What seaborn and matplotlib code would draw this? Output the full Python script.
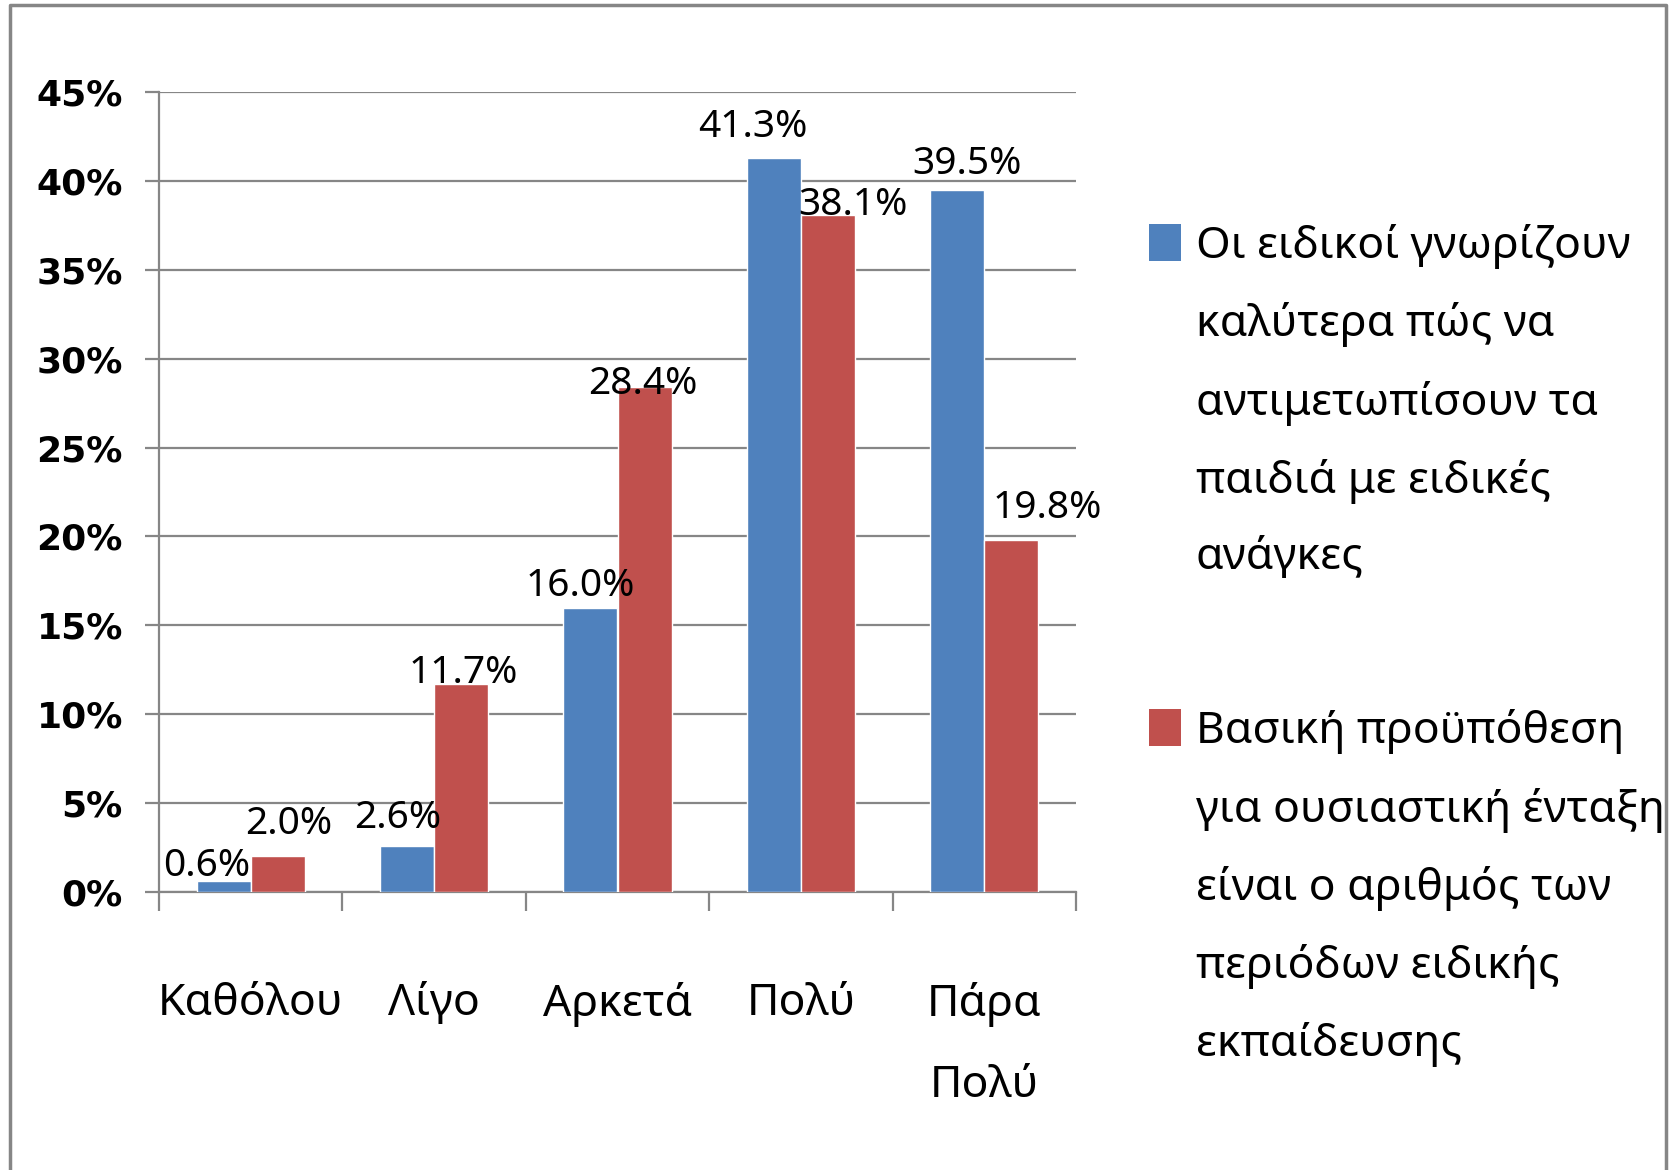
import matplotlib
matplotlib.use("Agg")
import matplotlib.pyplot as plt
import matplotlib.patches as mpatches
from matplotlib.ticker import FixedLocator
import seaborn as sns
import pandas as pd

# ---- data ----
categories = ["Καθόλου", "Λίγο", "Αρκετά", "Πολύ", "Πάρα\nΠολύ"]
series_names = [
    "Οι ειδικοί γνωρίζουν\nκαλύτερα πώς να\nαντιμετωπίσουν τα\nπαιδιά με ειδικές\nανάγκες",
    "Βασική προϋπόθεση\nγια ουσιαστική ένταξη\nείναι ο αριθμός των\nπεριόδων ειδικής\nεκπαίδευσης",
]
series1 = [0.006, 0.026, 0.160, 0.413, 0.395]
series2 = [0.020, 0.117, 0.284, 0.381, 0.198]
y_ticks = [0.00, 0.05, 0.10, 0.15, 0.20, 0.25, 0.30, 0.35, 0.40, 0.45]
y_tick_labels = ["0%", "5%", "10%", "15%", "20%", "25%", "30%", "35%", "40%", "45%"]

# ---- style (label nudges in points, per series) ----
label_dx = [[-12, -7, -7, -15, 7], [8, 1.5, -1, 18, 26]]
label_dy = [[4, 13, 8, 15, 11.5], [16, 1, -5, 0, 16]]

colors = ["#4F81BD", "#C0504D"]
grid_col = "#868686"

sns.set_style("white")
plt.rcParams["font.family"] = ["Noto Sans", "DejaVu Sans"]
plt.rcParams["text.color"] = "black"
plt.rcParams["xtick.color"] = "black"
plt.rcParams["ytick.color"] = "black"

df = pd.DataFrame({
    "cat": categories * 2,
    "val": series1 + series2,
    "series": [series_names[0]] * 5 + [series_names[1]] * 5,
})

fig = plt.figure(figsize=(16.71, 11.70), dpi=100)
ax = fig.add_axes([159 / 1671, 1 - 892 / 1170, (1076 - 159) / 1671, (892 - 92) / 1170])

sns.barplot(data=df, x="cat", y="val", hue="series", order=categories,
            hue_order=series_names, palette=colors, width=0.59, gap=0,
            saturation=1, ax=ax, legend=False, zorder=3)

ax.set_xlim(-0.5, len(categories) - 0.5)
ax.set_ylim(0, 0.45)
ax.set_yticks(y_ticks, labels=y_tick_labels, fontweight="bold", fontsize=26,
              family="DejaVu Sans")
ax.grid(axis="y", color=grid_col, linewidth=1.6, zorder=0)
ax.set_axisbelow(True)
ax.set_xlabel("")
ax.set_ylabel("")

for s in ["top", "right"]:
    ax.spines[s].set_visible(False)
for s in ["left", "bottom"]:
    ax.spines[s].set_color(grid_col)
    ax.spines[s].set_linewidth(1.6)

ax.tick_params(axis="y", length=10, width=1.6, color=grid_col, pad=16, left=True,
               labelcolor="black")

ax.set_xticks(range(len(categories)))
ax.set_xticklabels(categories, fontsize=32, linespacing=2.1)
ax.tick_params(axis="x", which="major", length=0, pad=65, labelcolor="black")
ax.xaxis.set_minor_locator(FixedLocator([i - 0.5 for i in range(len(categories) + 1)]))
ax.tick_params(axis="x", which="minor", length=14, width=1.6, color=grid_col, bottom=True)

for si, cont in enumerate(ax.containers):
    for bi, (patch, v) in enumerate(zip(cont.patches, cont.datavalues)):
        xc = patch.get_x() + patch.get_width() / 2
        ax.annotate(f"{v*100:.1f}%", xy=(xc, v),
                    xytext=(label_dx[si][bi], label_dy[si][bi]),
                    textcoords="offset points", ha="center", va="baseline",
                    fontsize=28, color="black", zorder=5)

handles = [mpatches.Patch(facecolor=c, edgecolor="none") for c in colors]
leg = fig.legend(handles, series_names, loc="upper left",
                 bbox_to_anchor=(1149 / 1671, 1 - 224 / 1170),
                 frameon=False, fontsize=32, handlelength=0.72, handleheight=0.9,
                 handletextpad=0.33, labelspacing=2.9, borderpad=0, borderaxespad=0)
for t in leg.get_texts():
    t.set_linespacing(1.98)
    t.set_color("black")
try:
    for item in leg._legend_handle_box.get_children()[0].get_children():
        item.align = "top"
except Exception:
    pass

# outer frame
fig.add_artist(plt.Line2D([10 / 1671, 10 / 1671, 1666 / 1671, 1666 / 1671],
                          [0, 1 - 5 / 1170, 1 - 5 / 1170, 0],
                          transform=fig.transFigure, color=grid_col, linewidth=2.5))

fig.savefig("out.png", dpi=100)
